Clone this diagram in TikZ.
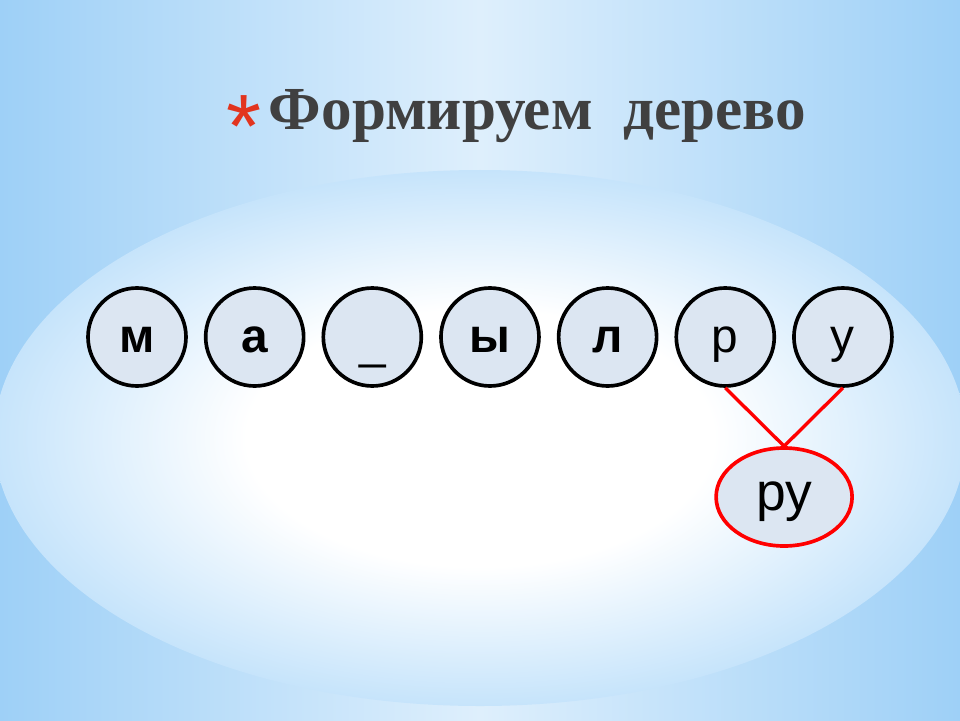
\documentclass[tikz,border=0pt]{standalone}
\usepackage{fontspec}
\setmainfont{Liberation Serif}
\newfontfamily\lettersfont{Liberation Sans}
\usepackage{tikz}
\usepackage{xcolor}
\usetikzlibrary{shapes.geometric}
\usetikzlibrary{positioning}
\usetikzlibrary{calc}
\definecolor{bgedge}{RGB}{158,208,247}
\definecolor{bgmid}{RGB}{222,239,252}
\definecolor{ovaledge}{RGB}{198,228,251}
\definecolor{nodefill}{RGB}{220,230,242}
\definecolor{titlegray}{RGB}{64,64,64}
\definecolor{starred}{RGB}{226,52,30}
\pgfdeclareradialshading{oval}{\pgfpoint{0cm}{0cm}}{color(0bp)=(white); color(12bp)=(white); color(25bp)=(ovaledge); color(50bp)=(ovaledge)}
\tikzstyle{letter} = [circle, minimum size=2.45cm, inner sep=0pt, line width=2.6pt, draw=black, fill=nodefill, text=black, font=\lettersfont\fontsize{34}{34}\selectfont, text height=0.85cm, text depth=0.1cm]
\tikzstyle{pair} = [ellipse, minimum width=3.4cm, minimum height=2.45cm, inner sep=0pt, line width=2.6pt, draw=red, fill=nodefill, text=black, font=\lettersfont\fontsize{38}{38}\selectfont, text height=0.95cm, text depth=0.3cm]
\tikzstyle{link} = [red, line width=2.4pt]
\begin{document}
\begin{tikzpicture}[node distance=0.4cm]
        \useasboundingbox (0,0) rectangle (24,18);
        \shade[left color=bgedge, right color=bgedge, middle color=bgmid] (0,0) rectangle (24,18);
        \shade[shading=oval] (12,7.05) ellipse (12.15cm and 6.7cm);

        \node (title) [anchor=base west, text=titlegray, font=\bfseries\fontsize{43.5}{43.5}\selectfont] at (6.6,14.75) {Формируем\ \ дерево};
        \node (star) [base left=0.05cm of title, inner sep=0pt, text=starred, font=\lettersfont\fontsize{64}{64}\selectfont, yshift=-0.7cm] {*};

        \node (m) [letter, font=\lettersfont\bfseries\fontsize{34}{34}\selectfont] at (3.425,9.575) {м};
        \node (a) [letter, right=of m, font=\lettersfont\bfseries\fontsize{34}{34}\selectfont] {а};
        \node (space) [letter, right=of a] {\raisebox{-0.15cm}{\_}};
        \node (y) [letter, right=of space, font=\lettersfont\bfseries\fontsize{34}{34}\selectfont] {ы};
        \node (l) [letter, right=of y, font=\lettersfont\bfseries\fontsize{34}{34}\selectfont] {л};
        \node (r) [letter, right=of l] {р};
        \node (u) [letter, right=of r] {у};
        \node (ru) [pair] at ($(r)!0.5!(u)+(0,-4)$) {ру};

        \draw [link] (r.south) -- (ru.north);
        \draw [link] (u.south) -- (ru.north);
    \end{tikzpicture}
\end{document}
